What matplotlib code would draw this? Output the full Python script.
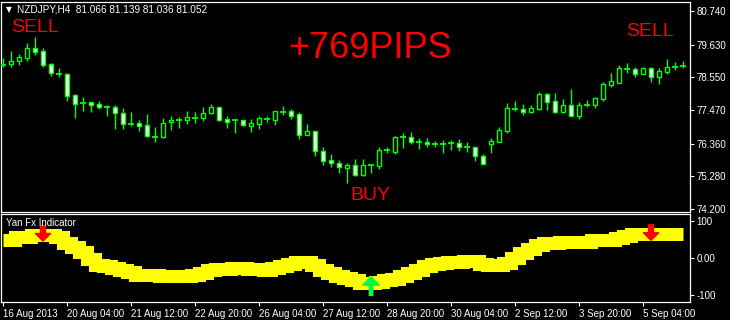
import matplotlib.pyplot as plt

plt.rcParams['font.family'] = ['Liberation Sans', 'DejaVu Sans']

# NZDJPY H4 candles
opens = [78.96, 79.00, 79.10, 79.20, 79.51, 79.41, 78.98, 78.68, 78.66, 77.95,
         77.73, 77.72, 77.67, 77.57, 77.56, 77.36, 77.04, 77.03, 76.96, 76.61,
         76.59, 77.06, 77.16, 77.15, 77.23, 77.22, 77.36, 77.56, 77.17, 77.14,
         77.13, 76.93, 77.02, 77.19, 77.15, 77.43, 77.43, 77.33, 76.66, 76.77,
         76.12, 75.81, 75.72, 75.57, 75.64, 75.33, 75.66, 75.63, 76.13, 76.09,
         76.58, 76.57, 76.42, 76.40, 76.37, 76.37, 76.37, 76.38, 76.25, 76.24,
         75.95, 76.36, 76.42, 76.79, 77.51, 77.50, 77.42, 77.50, 78.00, 77.77,
         77.40, 77.62, 77.28, 77.65, 77.64, 77.83, 78.31, 78.37, 78.83, 78.81,
         78.67, 78.85, 78.57, 78.74, 78.89, 78.90]
highs = [79.18, 79.42, 79.32, 79.67, 79.87, 79.51, 79.01, 78.85, 78.68, 77.99,
         77.89, 77.73, 77.77, 77.62, 77.62, 77.53, 77.39, 77.13, 77.34, 76.90,
         77.20, 77.26, 77.23, 77.44, 77.39, 77.56, 77.67, 77.57, 77.27, 77.18,
         77.14, 77.17, 77.28, 77.27, 77.44, 77.60, 77.50, 77.39, 77.01, 76.79,
         76.25, 76.02, 75.82, 75.73, 75.85, 75.85, 75.69, 76.24, 76.24, 76.61,
         76.71, 76.74, 76.55, 76.55, 76.44, 76.48, 76.48, 76.50, 76.41, 76.25,
         76.02, 76.53, 76.90, 77.69, 77.77, 77.66, 77.64, 78.05, 78.04, 78.04,
         77.82, 78.16, 77.72, 77.79, 77.91, 78.40, 78.69, 78.96, 79.02, 78.88,
         78.88, 78.88, 78.86, 79.16, 79.04, 79.09]
lows = [78.90, 78.90, 78.96, 79.09, 79.29, 78.90, 78.60, 78.57, 77.78, 77.22,
        77.45, 77.42, 77.51, 77.28, 76.85, 76.85, 76.94, 76.79, 76.59, 76.42,
        76.56, 76.82, 76.89, 77.01, 77.04, 77.12, 77.34, 77.12, 76.88, 76.72,
        76.95, 76.76, 76.84, 77.06, 76.99, 77.31, 77.18, 76.51, 76.63, 75.96,
        75.65, 75.60, 75.40, 75.07, 75.29, 75.29, 75.40, 75.52, 76.04, 76.03,
        76.23, 76.35, 76.19, 76.26, 76.26, 76.06, 76.15, 76.13, 76.07, 75.80,
        75.68, 76.06, 76.40, 76.72, 77.44, 77.31, 77.38, 77.47, 77.47, 77.38,
        77.37, 77.27, 77.17, 77.57, 77.54, 77.77, 78.23, 78.36, 78.70, 78.57,
        78.66, 78.41, 78.33, 78.67, 78.79, 78.86]
closes = [78.95, 79.10, 79.21, 79.51, 79.40, 78.97, 78.70, 78.67, 77.94, 77.68,
          77.71, 77.65, 77.58, 77.56, 77.36, 77.02, 77.02, 76.95, 76.62, 76.59,
          77.03, 77.14, 77.15, 77.23, 77.22, 77.37, 77.57, 77.15, 77.09, 77.13,
          76.99, 77.04, 77.21, 77.18, 77.43, 77.42, 77.28, 76.66, 76.77, 76.11,
          75.80, 75.71, 75.60, 75.65, 75.31, 75.64, 75.65, 76.14, 76.14, 76.57,
          76.57, 76.42, 76.41, 76.34, 76.36, 76.36, 76.38, 76.24, 76.24, 75.96,
          75.70, 76.45, 76.81, 77.53, 77.50, 77.42, 77.53, 78.00, 77.75, 77.42,
          77.62, 77.28, 77.62, 77.64, 77.86, 78.33, 78.42, 78.86, 78.84, 78.67,
          78.85, 78.57, 78.76, 78.88, 78.90, 78.91]

# Yan Fx indicator line
yan = [47, 47, 56, 56, 61, 61, 61, 56, 41, 29,
       15, -4, -18, -22, -27, -33, -39, -45, -45, -45,
       -50, -50, -50, -50, -45, -41, -34, -30, -30, -27,
       -27, -30, -30, -32, -26, -22, -17, -12, -12, -18,
       -32, -41, -50, -55, -59, -68, -68, -64, -60, -58,
       -50, -40, -32, -23, -17, -15, -12, -12, -8, -8,
       -17, -18, -18, -14, 0, 14, 24, 35, 41, 41,
       44, 44, 44, 44, 47, 47, 47, 53, 60, 65,
       65, 65, 65, 64, 64, 64]

sell_bars = [5, 81]
sell_levels = [45, 47]
buy_bars = [46]
buy_levels = [-51]

time_ticks = [0, 8, 16, 24, 32, 40, 48, 56, 64, 72, 80]
time_labels = ['16 Aug 2013', '20 Aug 04:00', '21 Aug 12:00', '22 Aug 20:00',
               '26 Aug 04:00', '27 Aug 12:00', '28 Aug 20:00', '30 Aug 04:00',
               '2 Sep 12:00', '3 Sep 20:00', '5 Sep 04:00']
price_ticks = [80.740, 79.630, 78.550, 77.470, 76.360, 75.280, 74.200]
ind_ticks = [100, 0, -100]
ind_labels = ['100', '0.00', '-100']

GREEN = '#00ff00'
W, H = 730, 320

fig = plt.figure(figsize=(7.3, 3.2), dpi=100, facecolor='black')
ax = fig.add_axes([1 / W, 1 - 211.7 / H, 688.5 / W, 209.7 / H], facecolor='black')
ax2 = fig.add_axes([1 / W, 1 - 301.7 / H, 688.5 / W, 87.4 / H], facecolor='black')

# candles
x = list(range(len(opens)))
ax.vlines(x, lows, highs, color=GREEN, lw=1.0, zorder=2)
for i in x:
    o, c = opens[i], closes[i]
    if abs(c - o) < 0.025:
        ax.hlines(c, i - 0.32, i + 0.32, color=GREEN, lw=1.3, zorder=3)
    else:
        face = 'black' if c > o else 'white'
        ax.bar(i, abs(c - o), bottom=min(o, c), width=0.62, facecolor=face,
               edgecolor=GREEN, linewidth=1.0, zorder=3)

ax.set_xlim(-0.25, 85.81)
ax.set_ylim(74.112, 81.037)
ax.set_xticks([])
ax.yaxis.tick_right()
ax.set_yticks(price_ticks)
ax.set_yticklabels(['%.3f' % p for p in price_ticks])

# indicator
ax2.plot(x, yan, color='#ffff00', lw=9.4, drawstyle='steps-mid',
         solid_joinstyle='miter', solid_capstyle='butt', zorder=2)
for b, lv in zip(sell_bars, sell_levels):
    ax2.annotate('', xy=(b, lv), xytext=(b, lv + 42),
                 arrowprops=dict(arrowstyle='simple,head_length=0.55,head_width=1.1,tail_width=0.35',
                                 color='#ff0000', shrinkA=0, shrinkB=0, mutation_scale=10),
                 zorder=4)
for b, lv in zip(buy_bars, buy_levels):
    ax2.annotate('', xy=(b, lv), xytext=(b, lv - 50),
                 arrowprops=dict(arrowstyle='simple,head_length=0.6,head_width=1.2,tail_width=0.25',
                                 color='#00ff40', shrinkA=0, shrinkB=0, mutation_scale=10),
                 zorder=4)

ax2.set_xlim(-0.25, 85.81)
ax2.set_ylim(-118, 117.2)
ax2.yaxis.tick_right()
ax2.set_yticks(ind_ticks)
ax2.set_yticklabels(ind_labels)
ax2.set_xticks(time_ticks)
ax2.set_xticklabels(time_labels)
for lbl in ax2.get_xticklabels():
    lbl.set_horizontalalignment('left')

for a in (ax, ax2):
    for s in a.spines.values():
        s.set_color('white')
        s.set_linewidth(0.9)
    a.tick_params(colors='white', labelsize=7, length=3, width=0.8, pad=2)

# labels on the chart
fig.text(6 / W, 1 - 10 / H, '\u25bc', color='white', fontsize=5.5, va='center', family=['DejaVu Sans'])
fig.text(17 / W, 1 - 10 / H, 'NZDJPY,H4  81.066 81.139 81.036 81.052', color='white',
         fontsize=7.2, va='center')
fig.text(6 / W, 1 - 223 / H, 'Yan Fx Indicator', color='white', fontsize=7, va='center')
fig.text(34.5 / W, 1 - 28 / H, 'SELL', color='#ff0000', fontsize=14, ha='center', va='center')
fig.text(650 / W, 1 - 32 / H, 'SELL', color='#ff0000', fontsize=14, ha='center', va='center')
fig.text(370 / W, 1 - 49 / H, '+769PIPS', color='#ff0000', fontsize=26, ha='center', va='center')
fig.text(370 / W, 1 - 195 / H, 'BUY', color='#ff0000', fontsize=14, ha='center', va='center')

fig.savefig('out.png', dpi=100, facecolor='black')
